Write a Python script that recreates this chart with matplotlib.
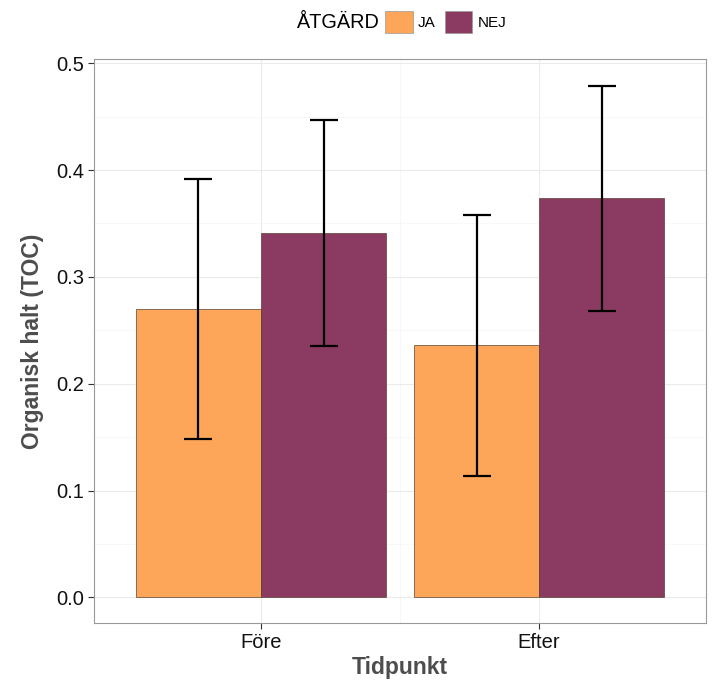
import numpy as np
import matplotlib
matplotlib.use("Agg")
import matplotlib.pyplot as plt
from matplotlib.patches import Patch

plt.rcParams['font.family'] = ['Liberation Sans', 'DejaVu Sans']

# --- data ---
tidpunkt = ["Före", "Efter"]
atgard = ["JA", "NEJ"]
toc_ja = [0.270, 0.236]
toc_nej = [0.341, 0.374]
lo_ja = [0.148, 0.114]
hi_ja = [0.392, 0.358]
lo_nej = [0.235, 0.268]
hi_nej = [0.447, 0.479]

colors = {"JA": "#FDA65A", "NEJ": "#8B3A62"}

fig = plt.figure(figsize=(7.14, 6.8), dpi=100)
ax = fig.add_axes([94 / 714, 1 - 623 / 680, 612 / 714, 564 / 680])

x = np.arange(1, len(tidpunkt) + 1)
w = 0.45
series = [("JA", toc_ja, lo_ja, hi_ja, -w / 2), ("NEJ", toc_nej, lo_nej, hi_nej, w / 2)]
for name, vals, lo, hi, off in series:
    vals = np.array(vals)
    ax.bar(x + off, vals, width=w, color=colors[name], edgecolor="#5a4030",
           linewidth=0.5, zorder=2)
    err = [vals - np.array(lo), np.array(hi) - vals]
    ax.errorbar(x + off, vals, yerr=err, fmt="none", ecolor="black",
                elinewidth=1.6, capsize=10, capthick=1.6, zorder=3)

ax.set_xlim(0.4, 2.6)
ax.set_ylim(-0.024, 0.504)
ax.set_xticks(x)
ax.set_xticklabels(tidpunkt)
ax.set_yticks(np.arange(0, 0.51, 0.1))
ax.set_yticklabels([f"{v:.1f}" for v in np.arange(0, 0.51, 0.1)])
ax.set_yticks(np.arange(0.05, 0.5, 0.1), minor=True)
ax.set_xticks([1.5], minor=True)
ax.grid(which="major", color="#ebebeb", linewidth=0.8, zorder=0)
ax.grid(which="minor", color="#f5f5f5", linewidth=0.5, zorder=0)
ax.set_axisbelow(True)
ax.tick_params(which="major", length=4, color="#333333", labelsize=14.5,
               labelcolor="#111111", pad=3)
ax.tick_params(which="minor", length=0)
for s in ax.spines.values():
    s.set_color("#999999")
    s.set_linewidth(0.8)

ax.set_xlabel("Tidpunkt", fontsize=16.5, fontweight="bold", color="#4d4d4d", labelpad=3)
ax.set_ylabel("Organisk halt (TOC)", fontsize=16.5, fontweight="bold", color="#4d4d4d", labelpad=9)

# legend on top
handles = [Patch(facecolor=colors[a], edgecolor="#999999", linewidth=0.5) for a in atgard]
fig.text(337 / 714, 1 - 22 / 680, "ÅTGÄRD", fontsize=14.3, ha="center", va="center")
fig.legend(handles, atgard, loc="center left", bbox_to_anchor=(385 / 714, 1 - 22 / 680),
           ncol=2, frameon=False, fontsize=11, handlelength=1.8, handleheight=1.8,
           handletextpad=0.35, columnspacing=0.6, borderpad=0, borderaxespad=0)

fig.savefig("out.png", dpi=100)
